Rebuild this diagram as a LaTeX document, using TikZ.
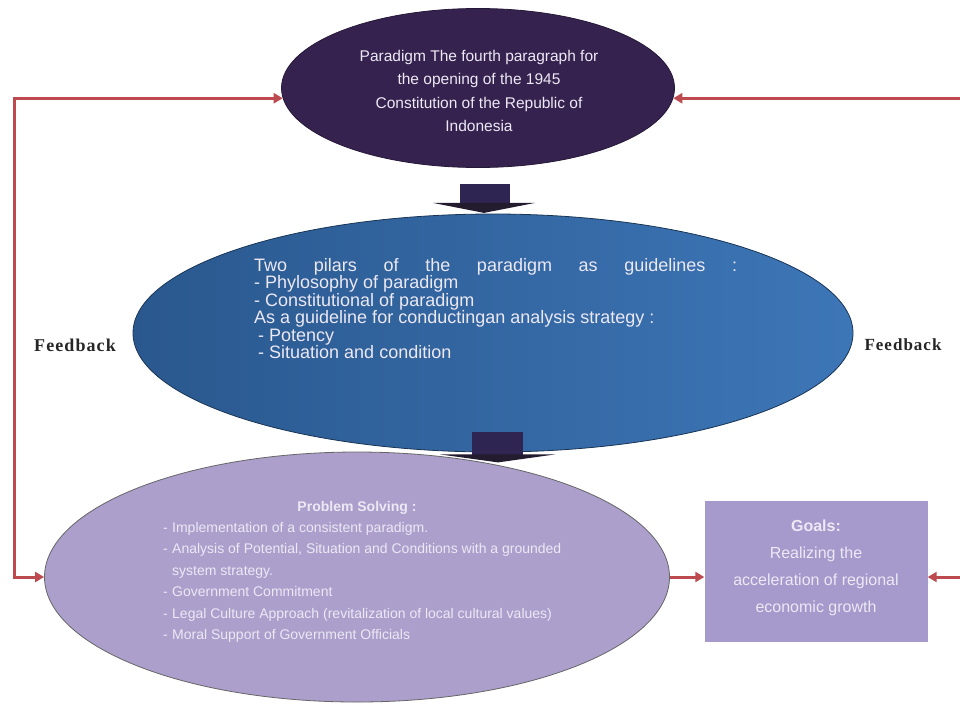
\documentclass[tikz,border=0pt]{standalone}
\usepackage{fontspec}
\setmainfont{Liberation Sans}
\newfontfamily\fbfont[LetterSpace=6]{Liberation Serif}
\usetikzlibrary{shapes.geometric,arrows.meta,calc}
\definecolor{paradigmcol}{HTML}{36224F}
\definecolor{pillarsL}{HTML}{2A588E}
\definecolor{pillarsR}{HTML}{3D76B7}
\definecolor{solvingcol}{HTML}{AC9FCC}
\definecolor{goalscol}{HTML}{A699CC}
\definecolor{fbcol}{HTML}{BC4A4F}
\definecolor{blockcol}{HTML}{2F2552}
\definecolor{headcol}{HTML}{231B2E}
\definecolor{lighttext}{HTML}{ECE8F4}

\begin{document}
\begin{tikzpicture}[x=1pt,y=-1pt,
  bubble/.style={ellipse,inner sep=0pt},
  fbline/.style={line width=3pt,fbcol},
  fbtip/.tip={Triangle[length=9pt,width=10pt]},
  bodytext/.style={inner sep=0pt,text=lighttext}]
\useasboundingbox (0,0) rectangle (960,705);
\fill[white] (0,0) rectangle (960,705);

% sporbaugar
\node[bubble, fill=paradigmcol, draw=paradigmcol!70!black, line width=0.8pt,
  minimum width=393pt, minimum height=159pt] (paradigm) at (478,88) {};
\node[bubble, left color=pillarsL, right color=pillarsR, draw=pillarsL!60!black,
  line width=0.8pt, minimum width=720pt, minimum height=238pt] (pillars) at (493,333) {};

% blokkörvar
\fill[blockcol] ($(paradigm.south)+(-18,16)$) rectangle ++(50,20);
\fill[headcol] ($(paradigm.south)+(-45,35)$) -- ++(102,0) -- ++(-51,10) -- cycle;
\fill[blockcol] ($(pillars.south)+(-21,-20)$) rectangle ++(51,23);
\fill[headcol] ($(pillars.south)+(-53,2)$) -- ++(115,0) -- ++(-57,8) -- cycle;

\node[bubble, fill=solvingcol, draw=black!60, line width=0.8pt,
  minimum width=625pt, minimum height=250pt] (solving) at (357,577) {};
% kassi
\node[fill=goalscol, inner sep=0pt, minimum width=223pt, minimum height=141pt] (goals) at (816,571) {};

% texti
\node[bodytext, align=center, font=\fontsize{15.5}{23.5}\selectfont] (paradigmtext) at (479,91)
  {Paradigm The fourth paragraph for\\ the opening of the 1945\\ Constitution of the Republic of\\ Indonesia};
\node[bodytext, anchor=north west, align=left, font=\fontsize{18}{17.5}\selectfont] (pillarstext) at (254,258)
  {\makebox[483pt][s]{Two pilars of the paradigm as guidelines :}\\
   - Phylosophy of paradigm\\
   - Constitutional of paradigm\\
   As a guideline for conductingan analysis strategy :\\
   \hspace*{4pt}- Potency\\
   \hspace*{4pt}- Situation and condition};
\node[bodytext, font=\fontsize{14}{16}\selectfont\bfseries] (solvinghead) at (357,508) {Problem Solving :};
\node[bodytext, anchor=north west, align=left, font=\fontsize{14}{21.5}\selectfont] (solvingtext) at (163,522)
  {\makebox[9pt][l]{-}Implementation of a consistent paradigm.\\
   \makebox[9pt][l]{-}Analysis of Potential, Situation and Conditions with a grounded\\
   \hspace*{9pt}system strategy.\\
   \makebox[9pt][l]{-}Government Commitment\\
   \makebox[9pt][l]{-}Legal Culture Approach (revitalization of local cultural values)\\
   \makebox[9pt][l]{-}Moral Support of Government Officials};
\node[bodytext, align=center, font=\fontsize{16}{27}\selectfont] (goalstext) at (816,568)
  {\textbf{Goals:}\\ Realizing the\\ acceleration of regional\\ economic growth};

% endurgjöf
\coordinate (fbL) at (14,0);
\coordinate (fbR) at (962,0);
\draw[fbline, {fbtip}-{fbtip}] (paradigm.183) -- (fbL |- paradigm.183) -- (fbL |- solving.west) -- (solving.west);
\draw[fbline, -{fbtip}] (fbR |- paradigm.357) -- (paradigm.357);
\draw[fbline, -{fbtip}] (fbR |- solving.east) -- (solving.east -| goals.east);
\draw[fbline, -{fbtip}] (solving.east) -- (solving.east -| goals.west);
\node[font=\fbfont\fontsize{18}{20}\selectfont\bfseries, text=black!85] (fbleft) at (75,345) {Feedback};
\node[font=\fbfont\fontsize{17}{20}\selectfont\bfseries, text=black!85] (fbright) at (903,345) {Feedback};
\end{tikzpicture}
\end{document}
